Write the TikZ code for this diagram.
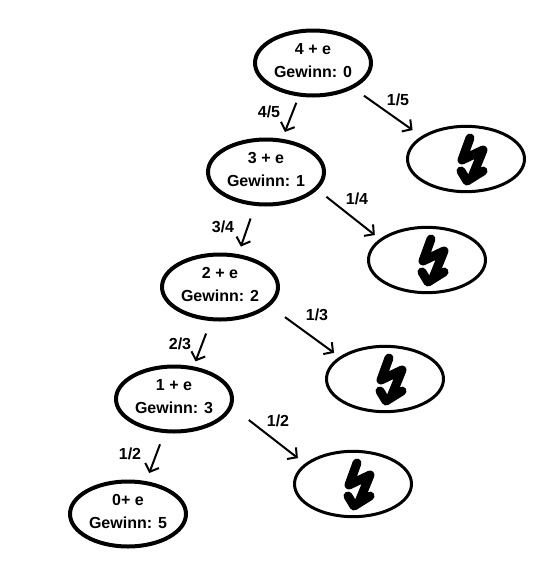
\documentclass[tikz,border=0pt]{standalone}
\usepackage{fontspec}
\setmainfont{Liberation Sans}
\usetikzlibrary{shapes.geometric, arrows.meta}
\tikzset{
  state/.style={ellipse, draw=black, line width=3pt, minimum width=87pt, minimum height=48.75pt,
    inner xsep=0pt, inner ysep=-6pt, text depth=4.5pt, align=center, font=\fontsize{12}{17.25}\selectfont\bfseries},
  failstate/.style={ellipse, draw=black, line width=2.25pt, minimum width=87.75pt, minimum height=49pt,
    inner sep=0pt},
  arrow/.style={-{Straight Barb[length=5pt, width=11pt]}, line width=1.5pt, color=black},
  prob/.style={inner sep=0pt, font=\fontsize{12}{14}\selectfont\bfseries},
  bolt/.pic={
    \draw[line width=6.75pt, line cap=round, line join=round] (4,-21) -- (-4,1) -- (17,-9) -- (6,18);
    \draw[line width=6.75pt, line cap=round, line join=round] (-5,12) -- (1,22) -- (17,12);
  }
}
\begin{document}
\begin{tikzpicture}[x=0.75pt, y=-0.75pt]
  \useasboundingbox (0,0) rectangle (543,564);

  % Winning states
  \node[state] (s_4) at (313,63) {4 + e\\Gewinn: 0};
  \node[state] (s_3) at (266,172) {3 + e\\Gewinn: 1};
  \node[state] (s_2) at (220,287) {2 + e\\Gewinn: 2};
  \node[state] (s_1) at (174,399) {1 + e\\Gewinn: 3};
  \node[state] (s_0) at (128,514) {0+ e\\Gewinn: 5};

  % Losing states
  \node[failstate] (f_4) at (466,159) {};
  \node[failstate] (f_3) at (427,260) {};
  \node[failstate] (f_2) at (385,379) {};
  \node[failstate] (f_1) at (353,484) {};
  \pic at (f_4) {bolt};
  \pic at (f_3) {bolt};
  \pic at (f_2) {bolt};
  \pic at (f_1) {bolt};

  % Going on
  \draw[arrow, shorten <=5pt, shorten >=5.5pt] (s_4.-113) -- (s_3.64);
  \draw[arrow, shorten <=10pt, shorten >=6pt] (s_3.-108) -- (s_2.61);
  \draw[arrow, shorten <=10pt, shorten >=4pt] (s_2.-105) -- (s_1.59);
  \draw[arrow, shorten <=9pt, shorten >=6.5pt] (s_1.-106) -- (s_0.61);

  % Losing everything
  \draw[arrow, shorten <=9.5pt, shorten >=8pt] (s_4.-32) -- (f_4.153);
  \draw[arrow, shorten <=8.5pt, shorten >=4.7pt] (s_3.-19) -- (f_3.156);
  \draw[arrow, shorten <=14pt, shorten >=5pt] (s_2.-21) -- (f_2.154);
  \draw[arrow, shorten <=15.7pt, shorten >=6.7pt] (s_1.-8) -- (f_1.157);

  % Probabilities
  \node[prob] (p_45) at (269,112) {4/5};
  \node[prob] (p_34) at (223,227) {3/4};
  \node[prob] (p_23) at (180,344) {2/3};
  \node[prob] (p_12) at (130,454) {1/2};
  \node[prob] (p_15) at (398,100) {1/5};
  \node[prob] (p_14) at (357,199) {1/4};
  \node[prob] (p_13) at (317,315) {1/3};
  \node[prob] (p_f12) at (278,421) {1/2};
\end{tikzpicture}
\end{document}
